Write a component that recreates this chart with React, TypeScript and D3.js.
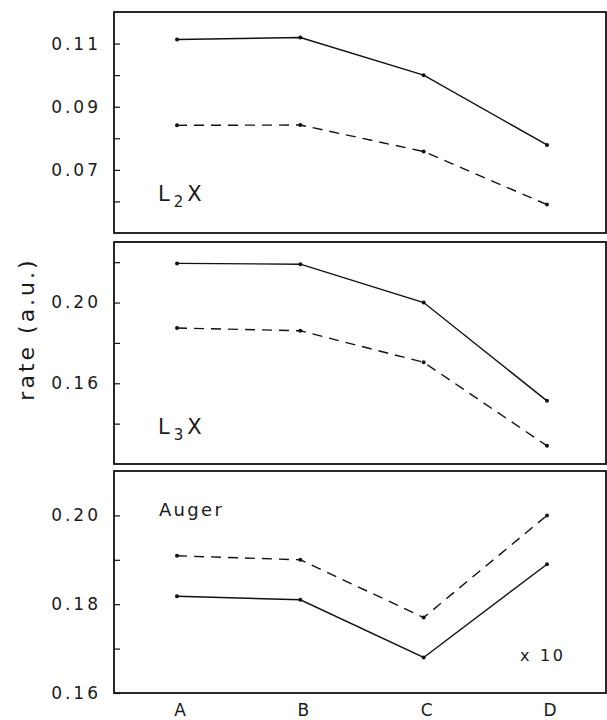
import React, { useEffect, useRef } from "react";
import * as d3 from "d3";

const categories = ["A", "B", "C", "D"];

// L2X panel
const l2Solid = [0.1113, 0.1119, 0.1, 0.0779];
const l2Dashed = [0.0841, 0.0842, 0.0758, 0.059];
const l2Labels = [0.07, 0.09, 0.11];
const l2Minor = [0.06, 0.08, 0.1];

// L3X panel
const l3Solid = [0.2194, 0.219, 0.2, 0.1513];
const l3Dashed = [0.1874, 0.186, 0.1704, 0.129];
const l3Labels = [0.16, 0.2];
const l3Minor = [0.14, 0.18, 0.22];

// Auger panel (x 10)
const augerSolid = [0.1818, 0.181, 0.168, 0.189];
const augerDashed = [0.1909, 0.19, 0.177, 0.2];
const augerLabels = [0.16, 0.18, 0.2];
const augerMinor = [0.17, 0.19];

const font = "'DejaVu Sans', 'Liberation Sans', sans-serif";
const ink = "#1a1a1a";

const App = () => {
  const ref = useRef(null);

  useEffect(() => {
    const width = 607;
    const height = 720;
    const left = 114;
    const right = 606;

    const svg = d3.select(ref.current);
    svg.selectAll("*").remove();
    svg.attr("width", width).attr("height", height).attr("viewBox", [0, 0, width, height]);

    const x = d3.scalePoint().domain(categories).range([177, 547]);

    const panels = [
      { top: 12, bottom: 233, domain: [0.05, 0.12], solid: l2Solid, dashed: l2Dashed, labels: l2Labels, minor: l2Minor, name: ["L", "2", "X"], nameY: 201 },
      { top: 242, bottom: 464, domain: [0.12, 0.23], solid: l3Solid, dashed: l3Dashed, labels: l3Labels, minor: l3Minor, name: ["L", "3", "X"], nameY: 434 },
      { top: 471, bottom: 693, domain: [0.16, 0.21], solid: augerSolid, dashed: augerDashed, labels: augerLabels, minor: augerMinor, name: null, nameY: 0 },
    ];

    panels.forEach((p) => {
      const y = d3.scaleLinear().domain(p.domain).range([p.bottom, p.top]);
      const g = svg.append("g");

      g.append("rect")
        .attr("x", left)
        .attr("y", p.top)
        .attr("width", right - left)
        .attr("height", p.bottom - p.top)
        .attr("fill", "none")
        .attr("stroke", "#111")
        .attr("stroke-width", 1.8);

      const axis = g.append("g")
        .attr("transform", `translate(${left},0)`)
        .call(
          d3.axisLeft(y)
            .tickValues([...p.labels, ...p.minor])
            .tickSize(-6)
            .tickPadding(13)
            .tickFormat((d) => (p.labels.includes(d) ? d3.format(".2f")(d) : ""))
        );
      axis.select(".domain").remove();
      axis.selectAll(".tick line").attr("stroke", "#111").attr("stroke-width", 1.2);
      axis.selectAll(".tick text")
        .attr("fill", ink)
        .attr("font-family", font)
        .attr("font-size", 17)
        .attr("letter-spacing", 3);

      const line = d3.line().x((d, i) => x(categories[i])).y((d) => y(d));

      g.append("path")
        .attr("d", line(p.solid))
        .attr("fill", "none")
        .attr("stroke", "#111")
        .attr("stroke-width", 1.4);
      g.append("path")
        .attr("d", line(p.dashed))
        .attr("fill", "none")
        .attr("stroke", "#111")
        .attr("stroke-width", 1.4)
        .attr("stroke-dasharray", "10,7");

      [p.solid, p.dashed].forEach((s) => {
        g.selectAll(null)
          .data(s)
          .join("circle")
          .attr("cx", (d, i) => x(categories[i]))
          .attr("cy", (d) => y(d))
          .attr("r", 2)
          .attr("fill", "#111");
      });

      if (p.name) {
        const t = g.append("text")
          .attr("x", 158)
          .attr("y", p.nameY)
          .attr("font-family", font)
          .attr("font-size", 21)
          .attr("letter-spacing", 4)
          .attr("fill", ink);
        t.append("tspan").attr("font-size", 21).text(p.name[0]);
        t.append("tspan").attr("font-size", 15).attr("dy", 6).text(p.name[1]);
        t.append("tspan").attr("font-size", 21).attr("dy", -6).text(p.name[2]);
      }
    });

    svg.append("text")
      .attr("x", 159)
      .attr("y", 516)
      .attr("font-family", font)
      .attr("font-size", 18)
      .attr("letter-spacing", 2.3)
      .attr("fill", ink)
      .text("Auger");

    svg.append("text")
      .attr("x", 520)
      .attr("y", 661)
      .attr("font-family", font)
      .attr("font-size", 16)
      .attr("letter-spacing", 2.7)
      .attr("fill", ink)
      .text("x 10");

    svg.append("text")
      .attr("transform", "translate(34,329) rotate(-90)")
      .attr("text-anchor", "middle")
      .attr("font-family", font)
      .attr("font-size", 22)
      .attr("letter-spacing", 3)
      .attr("fill", ink)
      .text("rate (a.u.)");

    svg.append("g")
      .selectAll("text")
      .data(categories)
      .join("text")
      .attr("x", (d) => x(d) + 3)
      .attr("y", 716)
      .attr("text-anchor", "middle")
      .attr("font-family", font)
      .attr("font-size", 17)
      .attr("fill", ink)
      .text((d) => d);
  }, []);

  return (
    <svg
      ref={ref}
      style={{ position: "absolute", left: 0, top: 0, display: "block", background: "#fff" }}
    ></svg>
  );
};

export default App;
